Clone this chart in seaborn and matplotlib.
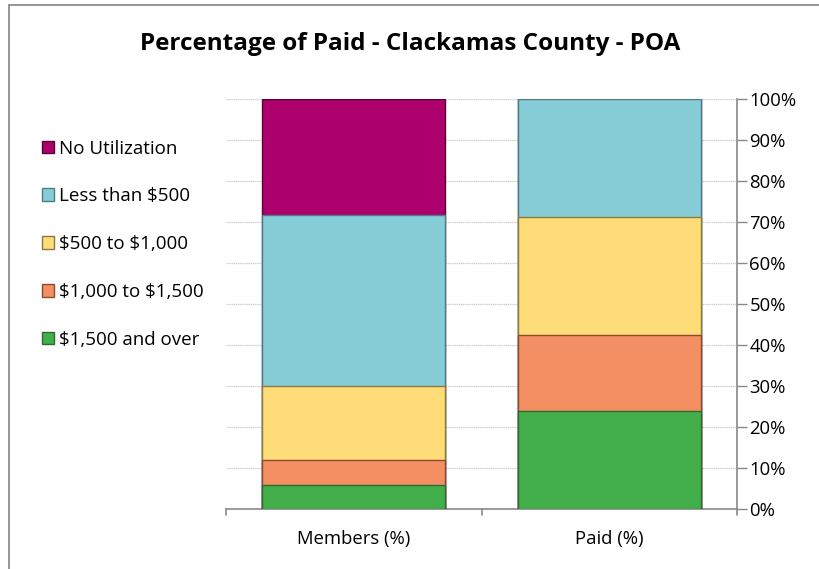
import matplotlib
matplotlib.use("Agg")
import matplotlib.pyplot as plt
import seaborn as sns
import pandas as pd
import numpy as np
from matplotlib.patches import Rectangle, Patch

categories = ["Members (%)", "Paid (%)"]
series_names = ["\\$1,500 and over", "\\$1,000 to \\$1,500", "\\$500 to \\$1,000",
                "Less than \\$500", "No Utilization"]
over_1500 = [6.0, 24.0]
from_1000_to_1500 = [6.0, 18.6]
from_500_to_1000 = [18.0, 28.7]
less_than_500 = [41.8, 28.7]
no_utilization = [28.2, 0.0]
yticks = [0, 10, 20, 30, 40, 50, 60, 70, 80, 90, 100]
ytick_labels = ["0%", "10%", "20%", "30%", "40%", "50%", "60%", "70%", "80%", "90%", "100%"]

colors = ["#42AF4A", "#F48F63", "#FEDC77", "#86CDD8", "#AE006C"]
edges = ["#2E6B31", "#8A4A30", "#8A7A3E", "#4E7C84", "#5A0038"]

sns.set_style("white")
plt.rcParams['font.family'] = ['Open Sans', 'DejaVu Sans']
plt.rcParams['text.color'] = 'black'
plt.rcParams['xtick.color'] = 'black'
plt.rcParams['ytick.color'] = 'black'

fig = plt.figure(figsize=(8.2, 5.69), dpi=100)
ax = fig.add_axes([226/820, 1 - 509.3/569, (737-226)/820, (509.3-99.3)/569])

series = [over_1500, from_1000_to_1500, from_500_to_1000, less_than_500, no_utilization]
cum = np.cumsum(np.array(series), axis=0)

for t in yticks[1:]:
    ax.axhline(t, color="#CFCFCF", lw=0.9, ls=(0, (1, 0.5)), zorder=0)

for i in range(len(series) - 1, -1, -1):
    df = pd.DataFrame({"cat": categories, "val": cum[i]})
    sns.barplot(data=df, x="cat", y="val", color=colors[i], width=0.716,
                edgecolor=edges[i], linewidth=1.0, ax=ax, zorder=2 + (len(series) - i),
                saturation=1)

ax.set_xlim(-0.5, 1.5)
ax.set_ylim(0, 100)
ax.yaxis.tick_right()
ax.set_yticks(yticks)
ax.set_yticklabels(ytick_labels, fontsize=13.3)
ax.set_xlabel("")
ax.set_ylabel("")
ax.set_xticks([0, 1])
ax.set_xticklabels(categories, fontsize=13.3)
ax.tick_params(axis="x", length=0, pad=15)
ax.tick_params(axis="y", right=True, length=7, width=1, color="#898989", pad=2,
               labelright=True, labelleft=False, labelcolor="black")
ax.tick_params(axis="x", labelcolor="black")

for s in ["top", "left"]:
    ax.spines[s].set_visible(False)
for s in ["right", "bottom"]:
    ax.spines[s].set_color("#898989")
    ax.spines[s].set_linewidth(1.2)

for xb in [-0.5, 0.5, 1.5]:
    ax.plot([xb, xb], [0, -1.5], color="#898989", lw=1.2, clip_on=False, zorder=10)

fig.text(0.5, 1 - 44/569, "Percentage of Paid - Clackamas County - POA",
         ha="center", va="center", fontsize=17.5, fontweight="bold", color="black")

handles = [Patch(facecolor=colors[i], edgecolor=edges[i], label=series_names[i])
           for i in range(len(series) - 1, -1, -1)]
fig.legend(handles=handles, loc="upper left", bbox_to_anchor=(34/820, 1 - 132/569),
           frameon=False, fontsize=13.5, handlelength=0.65, handleheight=0.65,
           handletextpad=0.3, labelspacing=1.59, borderaxespad=0, labelcolor="black")

fig.patches.append(Rectangle((8.5/820, -0.05), 1.0, 1 - 5/569 + 0.05,
                             transform=fig.transFigure, fill=False,
                             edgecolor="#8C8C8C", lw=1.3))

fig.savefig("out.png", dpi=100)
